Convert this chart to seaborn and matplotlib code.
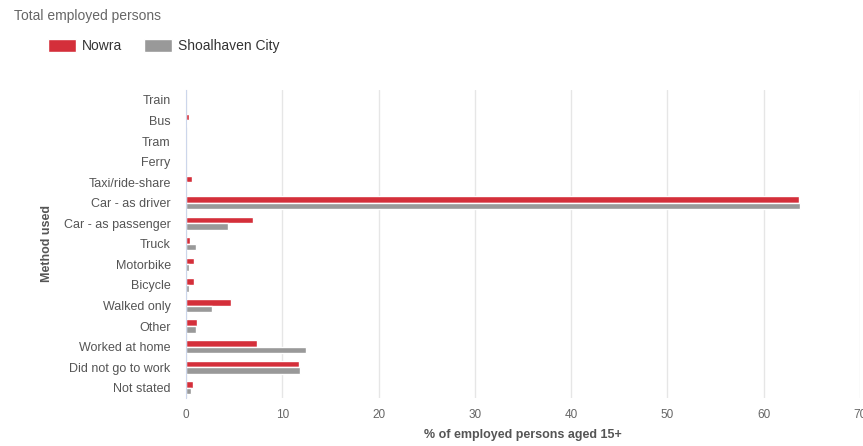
import matplotlib

matplotlib.use("Agg")
import matplotlib.pyplot as plt
import pandas as pd
import seaborn as sns
from matplotlib.patches import Patch

methods = [
    "Train", "Bus", "Tram", "Ferry", "Taxi/ride-share", "Car - as driver",
    "Car - as passenger", "Truck", "Motorbike", "Bicycle", "Walked only",
    "Other", "Worked at home", "Did not go to work", "Not stated",
]
nowra = [0.0, 0.3, 0.0, 0.0, 0.6, 63.7, 7.0, 0.4, 0.8, 0.8, 4.7, 1.1, 7.4, 11.7, 0.7]
shoalhaven = [0.0, 0.1, 0.0, 0.0, 0.1, 63.8, 4.4, 1.0, 0.3, 0.3, 2.7, 1.0, 12.5, 11.8, 0.5]
areas = ["Nowra", "Shoalhaven City"]
colors = ["#d42f3a", "#999999"]

df = pd.DataFrame({
    "method": methods * 2,
    "value": nowra + shoalhaven,
    "area": [areas[0]] * len(methods) + [areas[1]] * len(methods),
})

sns.set_style("white")
plt.rcParams["font.family"] = ["Liberation Sans", "DejaVu Sans"]

fig = plt.figure(figsize=(8.63, 4.46), dpi=100)
ax = fig.add_axes([0.2155, 0.1076, 0.781, 0.6914])

sns.barplot(
    data=df, y="method", x="value", hue="area", order=methods,
    hue_order=areas, palette=colors, orient="h", width=0.64,
    saturation=1, legend=False, ax=ax,
)

ax.set_xlim(0, 70)
ax.set_xticks(range(0, 71, 10))
ax.grid(axis="x", color="#e6e6e6", linewidth=1)
ax.set_axisbelow(True)
for side in ["top", "right", "bottom"]:
    ax.spines[side].set_visible(False)
ax.spines["left"].set_color("#ccd6eb")
ax.tick_params(axis="y", length=8, color="#ccd6eb", labelsize=9, labelcolor="#555555", pad=3)
ax.tick_params(axis="x", length=0, labelsize=8.5, labelcolor="#666666", pad=8)
ax.set_xlabel("% of employed persons aged 15+", fontsize=9, fontweight="bold", color="#555555", labelpad=6)
ax.set_ylabel("Method used", fontsize=9, fontweight="bold", color="#555555", labelpad=8)

fig.text(0.016, 0.965, "Total employed persons", fontsize=10, color="#666666", va="center")
handles = [Patch(facecolor=c, label=a) for c, a in zip(colors, areas)]
fig.legend(
    handles=handles, loc="center left", bbox_to_anchor=(0.041, 0.897), ncol=2,
    frameon=False, fontsize=10, handlelength=2.0, handleheight=1.1,
    columnspacing=1.6, handletextpad=0.45, labelcolor="#333333",
)

fig.savefig("out.png", dpi=100)
